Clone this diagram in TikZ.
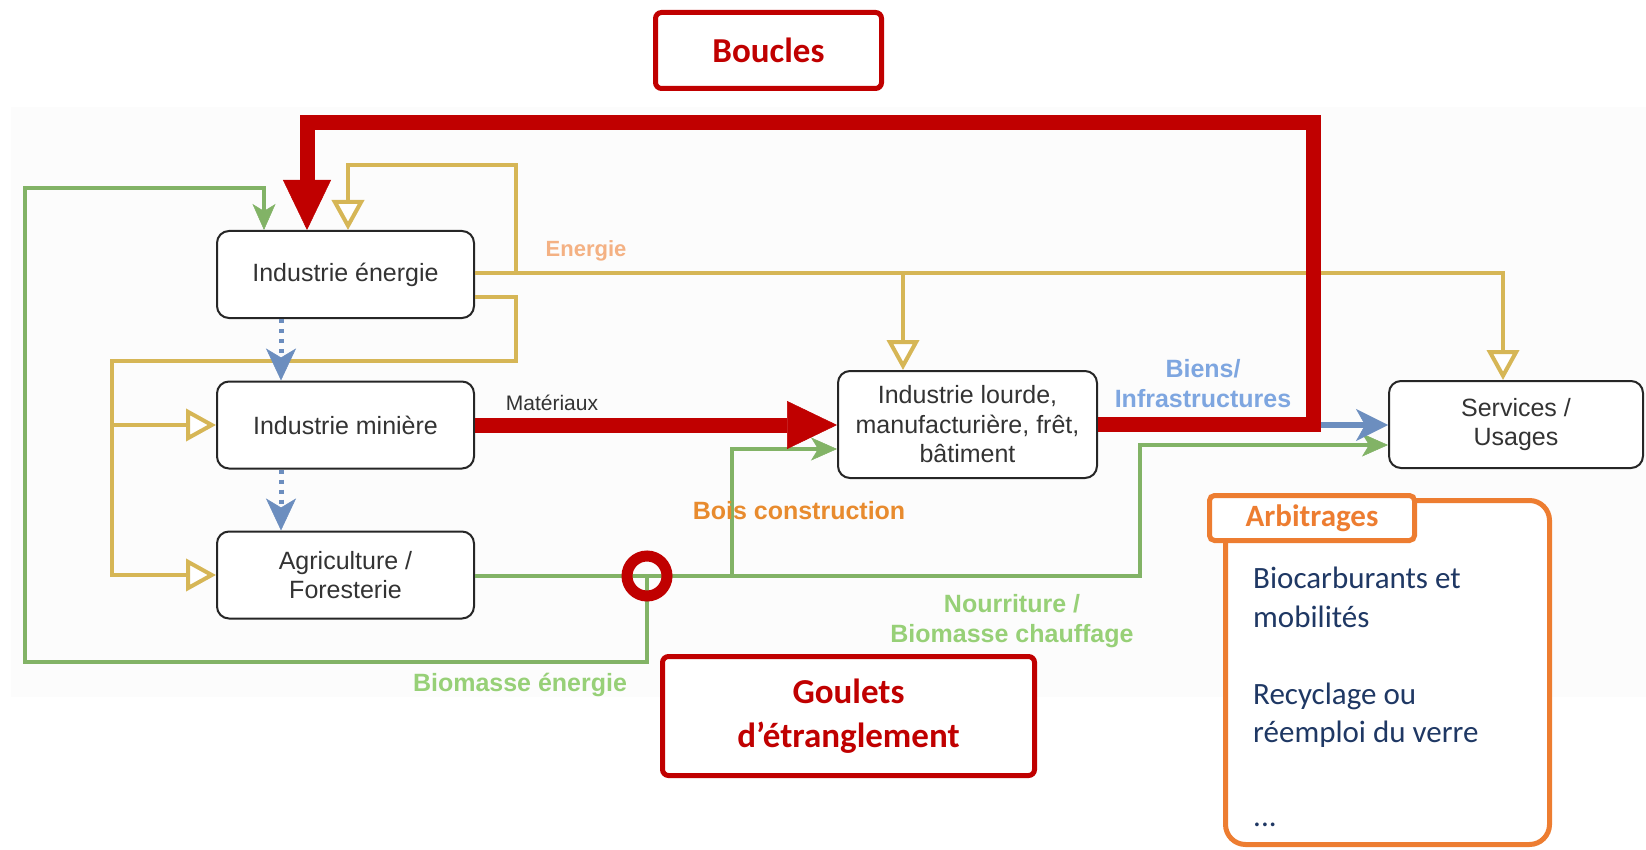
\documentclass[tikz,border=0pt]{standalone}
\usepackage{fontspec}
\setmainfont{Liberation Sans}
\newfontfamily\calibrifont{Carlito}
\usetikzlibrary{arrows.meta}
\definecolor{cYel}{HTML}{D6B656}
\definecolor{cGrn}{HTML}{82B366}
\definecolor{cBlu}{HTML}{6C8EBF}
\definecolor{cRed}{HTML}{C00000}
\definecolor{cOra}{HTML}{ED7D31}
\definecolor{cNavy}{HTML}{1F3864}
\definecolor{cEnerg}{HTML}{F4B183}
\definecolor{cBois}{HTML}{E88B2E}
\definecolor{cBiens}{HTML}{7EA6E0}
\definecolor{cGlbl}{HTML}{97D077}
\definecolor{cTxt}{HTML}{333333}
\definecolor{cBg}{HTML}{FCFCFC}
\begin{document}
\begin{tikzpicture}[x=1pt,y=-1pt,
  boxnode/.style={draw=black!85, line width=2pt, fill=white, rounded corners=12pt,
    minimum width=257pt, minimum height=87pt, align=center, inner sep=4pt,
    text=cTxt, font=\fontsize{25}{29.5}\selectfont},
  yline/.style={draw=cYel, line width=4pt},
  yarr/.style={yline, -{Triangle[length=30pt,width=32pt,fill=white]}},
  gline/.style={draw=cGrn, line width=3.5pt},
  garr/.style={gline, -{Stealth[length=26pt,width=23pt,inset=7pt,line width=0.5pt]}},
  barr/.style={draw=cBlu, line width=6pt, -{Stealth[length=32pt,width=32pt,inset=9pt,line width=0.5pt]}},
  bdot/.style={draw=cBlu, line width=5pt, dash pattern=on 4pt off 6pt,
    -{Stealth[length=32pt,width=30pt,inset=9pt,line width=0.5pt]}},
  rline/.style={draw=cRed, line width=15pt},
  rarr/.style={rline, -{Triangle[length=50pt,width=48pt,line width=0.5pt]}},
  lbl/.style={inner sep=0pt, font=\bfseries\fontsize{25}{30}\selectfont, align=center},
  callout/.style={draw=cRed, line width=5pt, rounded corners=6pt, fill=white,
    text=cRed, align=center},
]
\useasboundingbox (0,0) rectangle (1646,850);
\fill[cBg] (11,107) rectangle (1646,697);

% main boxes
\node[boxnode] (energie) at (345.5,274.5) {Industrie énergie};
\node[boxnode] (mine) at (345.5,425) {Industrie minière};
\node[boxnode] (agri) at (345.5,575) {Agriculture /\\Foresterie};
\node[boxnode, minimum width=259pt, minimum height=107pt] (lourde) at (967.5,424.5)
  {Industrie lourde,\\manufacturière, frêt,\\bâtiment};
\node[boxnode, minimum width=254pt] (serv) at (1516,424.5) {Services /\\Usages};

% yellow energy flows
\draw[yarr] (energie.east |- 0,273) -- (1503,273) -- (serv.north -| 1503,0);
\draw[yarr] (903,273) -- (lourde.north -| 903,0);
\draw[yarr] (energie.east |- 0,273) -| (516,165) -| (energie.north -| 348,0);
\draw[yarr] (energie.east |- 0,297) -| (516,361) -| (112,575) -- (agri.west);
\draw[yarr] (112,425) -- (mine.west);

% green flows
\coordinate (bnc) at (647,576);
\draw[garr] (agri.east |- bnc) -- (1140,576) |- (serv.west |- 0,445);
\draw[garr] (732,576) |- (lourde.west |- 0,449);
\draw[garr] (bnc) -- (647,662) -| (25,188) -| (energie.north -| 264,0);

% blue flows
\draw[barr] (lourde.east |- 0,425) -- (serv.west |- 0,425);
\draw[bdot] (energie.south -| 281,0) -- (mine.north -| 281,0);
\draw[bdot] (mine.south -| 281,0) -- (agri.north -| 281,0);

% red flows
\draw[rarr] (mine.east) -- (lourde.west |- mine.east);
\draw[rarr] (lourde.east) -| (1313,123) -| (energie.north -| 307,0);

% bottleneck circle
\node[circle, draw=cRed, line width=11pt, minimum size=40pt, inner sep=0pt] (bn) at (bnc) {};

% labels
\node[lbl, text=cEnerg, font=\bfseries\fontsize{22}{26}\selectfont] (lEn) at (586,251) {Energie};
\node[inner sep=0pt, text=cTxt, font=\fontsize{21}{25}\selectfont] (lMat) at (552,403) {Matériaux};
\node[lbl, text=cBiens] (lBiens) at (1203,384) {Biens/\\Infrastructures};
\node[lbl, text=cBois] (lBois) at (799,511) {Bois construction};
\node[lbl, text=cGlbl] (lNour) at (1012,621) {Nourriture /\\Biomasse chauffage};
\node[lbl, text=cGlbl] (lBio) at (520,685) {Biomasse énergie};

% callouts
\node[callout, minimum width=226pt, minimum height=76pt,
  font=\calibrifont\bfseries\fontsize{35}{42}\selectfont] (boucles) at (768.5,50.5) {Boucles};
\node[callout, minimum width=372pt, minimum height=119pt,
  font=\calibrifont\bfseries\fontsize{35}{44}\selectfont] (goulets) at (848.5,716)
  {Goulets\\d’étranglement};

\node[draw=cOra, line width=5pt, rounded corners=20pt, fill=white,
  minimum width=324pt, minimum height=344pt] (arbbox) at (1387.5,672.5) {};
\node[draw=cOra, line width=5pt, rounded corners=5pt, fill=white,
  minimum width=205pt, minimum height=45pt, text=cOra,
  font=\calibrifont\bfseries\fontsize{31}{36}\selectfont] (arbtitle) at (1312,518) {Arbitrages};
\node[anchor=north west, inner sep=0pt, align=left, text=cNavy,
  font=\calibrifont\fontsize{31}{38.5}\selectfont] (arbtext) at (1253,567)
  {Biocarburants et\\mobilités\\[38.5pt]Recyclage ou\\réemploi du verre\\[45pt]...};
\end{tikzpicture}
\end{document}
